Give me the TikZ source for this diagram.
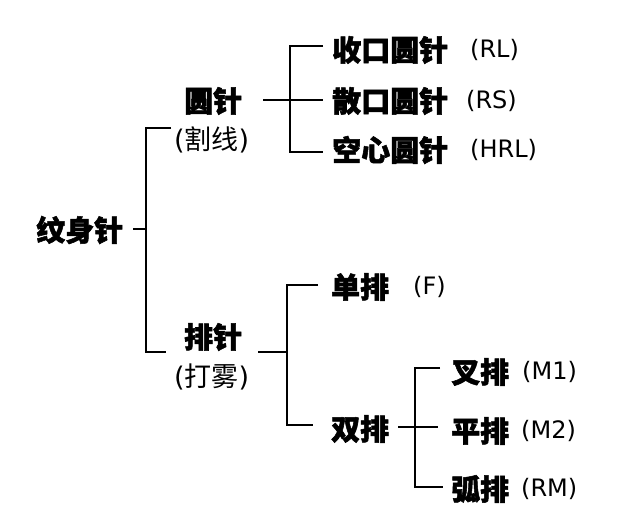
\documentclass[tikz,border=0pt]{standalone}
\usepackage{fontspec}
\newfontfamily\cjk{Noto Sans CJK SC}
\newfontfamily\cjkh[BoldFeatures={FakeBold=1.8}]{Noto Sans CJK SC}
\newfontfamily\dv{DejaVu Sans}
\begin{document}
\begin{tikzpicture}[x=1pt,y=-1pt,
  big/.style={font=\cjkh\bfseries\fontsize{29}{31}\selectfont, inner sep=0pt, anchor=west},
  sub/.style={font=\cjk\fontsize{27}{29}\selectfont, inner sep=0pt, anchor=west},
  code/.style={font=\dv\fontsize{24}{26}\selectfont, inner sep=0pt, anchor=west},
  conn/.style={line width=2.8pt, line join=miter}]
\useasboundingbox[fill=white] (0,0) rectangle (640,528);

% level 0
\node[big] (root) at (36,230) {纹身针};
% level 1
\node[big] (yz) at (184,101) {圆针};
\node[sub] (yzs) at (174,140) {{\dv(}割线{\dv)}};
\node[big] (pz) at (184,337) {排针};
\node[sub] (pzs) at (174,377) {{\dv(}打雾{\dv)}};
% level 2 (round)
\node[big] (sk) at (332,50) {收口圆针};
\node[code] (rl) at (470,50) {(RL)};
\node[big] (sa) at (332,101) {散口圆针};
\node[code] (rs) at (466,101) {(RS)};
\node[big] (kx) at (332,150) {空心圆针};
\node[code] (hrl) at (470,150) {(HRL)};
% level 2 (row)
\node[big] (dp) at (331,287) {单排};
\node[code] (f) at (413,287) {(F)};
\node[big] (sp) at (331,429) {双排};
% level 3
\node[big] (cp) at (451,372) {叉排};
\node[code] (m1) at (522,372) {(M1)};
\node[big] (pp) at (451,431) {平排};
\node[code] (m2) at (521,431) {(M2)};
\node[big] (hp) at (451,489) {弧排};
\node[code] (rm) at (521,489) {(RM)};

% junction coordinates
\coordinate (r0) at (133,229);
\coordinate (j1) at (146,229);
\coordinate (j1t) at (146,128);
\coordinate (j1b) at (146,352);
\coordinate (e1t) at (171,128);
\coordinate (e1b) at (166,352);

\coordinate (y0) at (263,100);
\coordinate (j2) at (290,100);
\coordinate (j2t) at (290,46);
\coordinate (j2b) at (290,152);
\coordinate (e2t) at (323,46);
\coordinate (e2m) at (323,100);
\coordinate (e2b) at (323,152);

\coordinate (p0) at (258,352);
\coordinate (j3) at (287,352);
\coordinate (j3t) at (287,285);
\coordinate (j3b) at (287,425);
\coordinate (e3t) at (318,285);
\coordinate (e3b) at (313,425);

\coordinate (s0) at (398,427);
\coordinate (j4) at (415,427);
\coordinate (j4t) at (415,368);
\coordinate (j4b) at (415,487);
\coordinate (e4t) at (440,368);
\coordinate (e4m) at (438,427);
\coordinate (e4b) at (443,487);

% connectors
\draw[conn] (r0) -- (j1);
\draw[conn] (e1t) -- (j1t) -- (j1b) -- (e1b);

\draw[conn] (y0) -- (j2);
\draw[conn] (e2t) -- (j2t) -- (j2b) -- (e2b);
\draw[conn] (j2) -- (e2m);

\draw[conn] (p0) -- (j3);
\draw[conn] (e3t) -- (j3t) -- (j3b) -- (e3b);

\draw[conn] (s0) -- (j4);
\draw[conn] (e4t) -- (j4t) -- (j4b) -- (e4b);
\draw[conn] (j4) -- (e4m);
\end{tikzpicture}
\end{document}
